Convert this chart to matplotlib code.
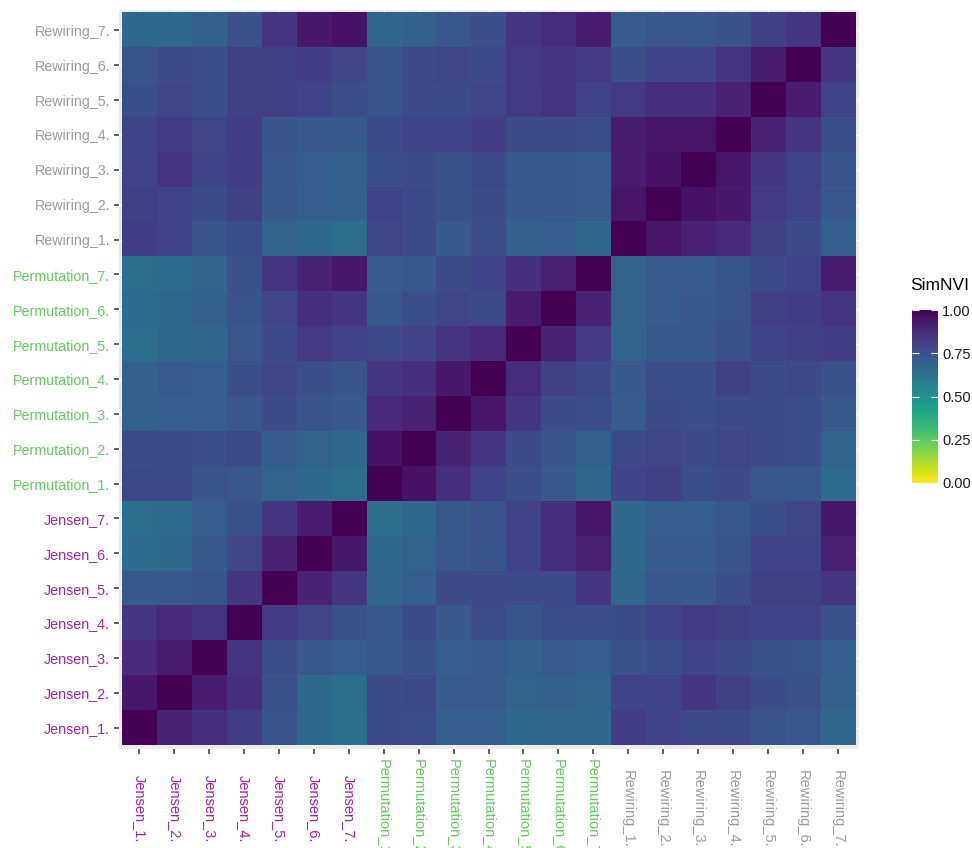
import numpy as np
import matplotlib
matplotlib.use("Agg")
import matplotlib.pyplot as plt

plt.rcParams['font.family'] = ['Liberation Sans', 'DejaVu Sans']

labels = ['Jensen_1.', 'Jensen_2.', 'Jensen_3.', 'Jensen_4.', 'Jensen_5.', 'Jensen_6.', 'Jensen_7.',
          'Permutation_1.', 'Permutation_2.', 'Permutation_3.', 'Permutation_4.', 'Permutation_5.',
          'Permutation_6.', 'Permutation_7.',
          'Rewiring_1.', 'Rewiring_2.', 'Rewiring_3.', 'Rewiring_4.', 'Rewiring_5.', 'Rewiring_6.', 'Rewiring_7.']
group_colors = {'Jensen': '#A91FAA', 'Permutation': '#62CB5C', 'Rewiring': '#9A9A9A'}

# rows bottom -> top, columns left -> right (same order as labels)
jensen_rows = [
    [1.00, 0.90, 0.87, 0.82, 0.74, 0.66, 0.63, 0.77, 0.76, 0.70, 0.70, 0.66, 0.67, 0.67, 0.82, 0.80, 0.78, 0.78, 0.74, 0.73, 0.67],
    [0.93, 1.00, 0.92, 0.86, 0.75, 0.66, 0.64, 0.77, 0.78, 0.71, 0.71, 0.68, 0.69, 0.68, 0.80, 0.80, 0.84, 0.81, 0.77, 0.75, 0.69],
    [0.88, 0.92, 1.00, 0.85, 0.76, 0.72, 0.70, 0.72, 0.75, 0.70, 0.71, 0.69, 0.71, 0.70, 0.75, 0.76, 0.80, 0.78, 0.75, 0.74, 0.70],
    [0.84, 0.88, 0.85, 1.00, 0.83, 0.79, 0.75, 0.73, 0.77, 0.72, 0.76, 0.74, 0.76, 0.76, 0.77, 0.80, 0.83, 0.81, 0.80, 0.80, 0.75],
    [0.72, 0.72, 0.74, 0.84, 1.00, 0.90, 0.84, 0.67, 0.70, 0.77, 0.78, 0.78, 0.78, 0.84, 0.67, 0.73, 0.73, 0.76, 0.81, 0.81, 0.84],
    [0.65, 0.66, 0.72, 0.79, 0.90, 1.00, 0.93, 0.66, 0.68, 0.73, 0.74, 0.80, 0.86, 0.91, 0.66, 0.71, 0.71, 0.74, 0.80, 0.80, 0.91],
    [0.64, 0.65, 0.70, 0.75, 0.84, 0.92, 1.00, 0.64, 0.66, 0.72, 0.74, 0.80, 0.86, 0.94, 0.66, 0.70, 0.70, 0.73, 0.76, 0.79, 0.93],
]
permutation_rows = [
    [0.78, 0.78, 0.74, 0.73, 0.68, 0.66, 0.64, 1.00, 0.95, 0.86, 0.80, 0.76, 0.73, 0.67, 0.80, 0.81, 0.76, 0.77, 0.73, 0.73, 0.65],
    [0.77, 0.78, 0.76, 0.78, 0.71, 0.68, 0.67, 0.95, 1.00, 0.90, 0.84, 0.78, 0.74, 0.69, 0.78, 0.79, 0.78, 0.79, 0.77, 0.76, 0.68],
    [0.69, 0.70, 0.70, 0.73, 0.77, 0.74, 0.72, 0.88, 0.90, 1.00, 0.94, 0.84, 0.77, 0.76, 0.71, 0.77, 0.76, 0.78, 0.77, 0.76, 0.72],
    [0.69, 0.71, 0.70, 0.76, 0.79, 0.76, 0.74, 0.84, 0.86, 0.93, 1.00, 0.87, 0.81, 0.78, 0.72, 0.76, 0.76, 0.81, 0.77, 0.78, 0.75],
    [0.64, 0.66, 0.67, 0.73, 0.78, 0.83, 0.80, 0.78, 0.80, 0.85, 0.88, 1.00, 0.90, 0.83, 0.68, 0.72, 0.72, 0.75, 0.80, 0.81, 0.82],
    [0.65, 0.66, 0.69, 0.74, 0.79, 0.86, 0.84, 0.73, 0.76, 0.79, 0.78, 0.92, 1.00, 0.90, 0.68, 0.71, 0.72, 0.74, 0.81, 0.82, 0.85],
    [0.64, 0.65, 0.68, 0.75, 0.84, 0.90, 0.93, 0.71, 0.73, 0.78, 0.80, 0.86, 0.91, 1.00, 0.68, 0.71, 0.71, 0.74, 0.78, 0.80, 0.92],
]
rewiring_rows = [
    [0.82, 0.80, 0.74, 0.76, 0.68, 0.66, 0.64, 0.79, 0.78, 0.72, 0.76, 0.69, 0.70, 0.67, 1.00, 0.94, 0.91, 0.88, 0.81, 0.77, 0.70],
    [0.81, 0.80, 0.77, 0.81, 0.72, 0.70, 0.69, 0.80, 0.78, 0.75, 0.77, 0.72, 0.72, 0.71, 0.94, 1.00, 0.95, 0.93, 0.83, 0.80, 0.73],
    [0.80, 0.85, 0.80, 0.82, 0.73, 0.70, 0.69, 0.76, 0.77, 0.75, 0.78, 0.73, 0.73, 0.71, 0.92, 0.95, 1.00, 0.94, 0.84, 0.80, 0.74],
    [0.80, 0.83, 0.79, 0.82, 0.74, 0.73, 0.72, 0.78, 0.80, 0.80, 0.82, 0.77, 0.77, 0.76, 0.92, 0.94, 0.94, 1.00, 0.90, 0.85, 0.76],
    [0.76, 0.79, 0.76, 0.81, 0.81, 0.80, 0.76, 0.74, 0.78, 0.78, 0.79, 0.83, 0.85, 0.80, 0.83, 0.86, 0.86, 0.90, 1.00, 0.92, 0.80],
    [0.74, 0.77, 0.76, 0.81, 0.81, 0.82, 0.79, 0.74, 0.78, 0.79, 0.78, 0.83, 0.84, 0.83, 0.76, 0.80, 0.80, 0.85, 0.92, 1.00, 0.84],
    [0.66, 0.66, 0.69, 0.75, 0.85, 0.93, 0.95, 0.67, 0.69, 0.73, 0.76, 0.84, 0.87, 0.92, 0.71, 0.73, 0.73, 0.75, 0.81, 0.84, 1.00],
]

sim = np.array(jensen_rows + permutation_rows + rewiring_rows)
n = len(labels)

fig = plt.figure(figsize=(9.72, 8.48), dpi=100)
ax = fig.add_axes([118.5 / 972, (848 - 748.5) / 848, 740 / 972, 739 / 848])
ax.set_facecolor('#EBEBEB')
ax.set_axisbelow(True)
ax.grid(color='white', lw=1.0)

im = ax.imshow(sim, origin='lower', cmap='viridis_r', vmin=0, vmax=1,
               aspect='auto', extent=(-0.5, n - 0.5, -0.5, n - 0.5), zorder=2)
ax.set_xlim(-0.6, n - 0.4)
ax.set_ylim(-0.6, n - 0.4)

for s in ax.spines.values():
    s.set_visible(False)

ax.set_xticks(range(n))
ax.set_yticks(range(n))
ax.set_xticklabels(labels, rotation=270, ha='center', va='center', fontsize=10.5)
ax.set_yticklabels(labels, fontsize=10.3)
ax.tick_params(axis='x', length=3.6, width=1.1, color='#333333', pad=40)
ax.tick_params(axis='y', length=3.6, width=1.1, color='#333333', pad=2.5)

for lab in ax.get_xticklabels() + ax.get_yticklabels():
    lab.set_color(group_colors[lab.get_text().split('_')[0]])

# colour bar legend
cax = fig.add_axes([912 / 972, (848 - 483) / 848, 26 / 972, 173 / 848])
cb = fig.colorbar(im, cax=cax, ticks=[0, 0.25, 0.5, 0.75, 1.0])
cb.outline.set_visible(False)
cb.ax.set_yticklabels(['0.00', '0.25', '0.50', '0.75', '1.00'])
cax.tick_params(direction='in', length=5, width=0.8, color='white', left=True, right=True,
                labelsize=10.5, labelcolor='#1A1A1A', pad=3)
fig.text(910 / 972, (848 - 286) / 848, 'SimNVI', fontsize=12.5, va='center', ha='left')

fig.savefig('out.png', dpi=100)
